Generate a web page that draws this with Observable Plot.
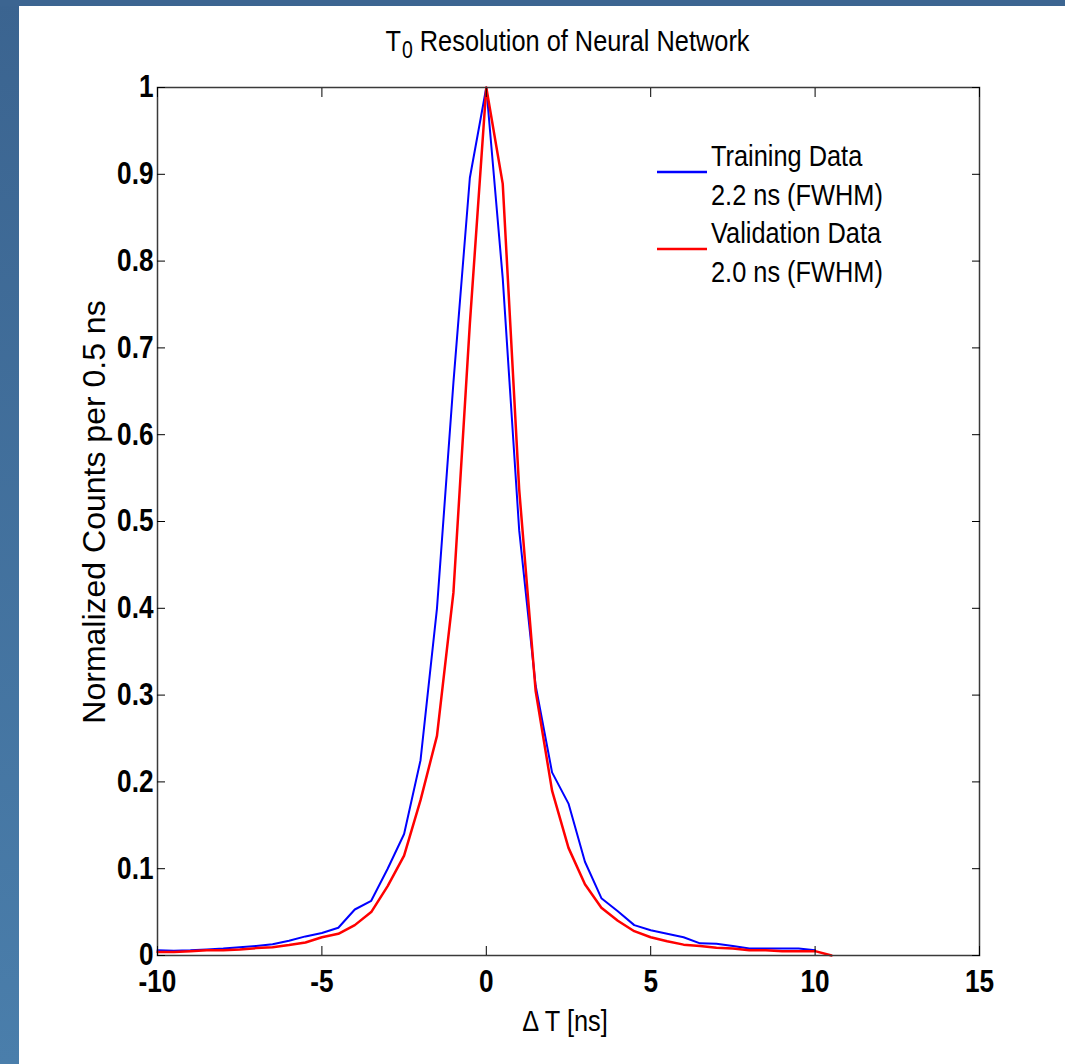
<!DOCTYPE html>
<html><head><meta charset="utf-8">
<script src="https://cdn.jsdelivr.net/npm/d3@7"></script>
<script src="https://cdn.jsdelivr.net/npm/@observablehq/plot@0.6"></script>
<style>
html,body{margin:0;padding:0;background:#fff;}
#wrap{position:relative;width:1065px;height:1064px;overflow:hidden;background:#fff;}
#leftband{position:absolute;left:0;top:0;width:19px;height:1064px;background:linear-gradient(#3b6490,#4a7eab);z-index:2}
#topband{position:absolute;left:0;top:0;width:1065px;height:6px;background:#3c6591;z-index:2}
#chart{position:absolute;left:0;top:0;}
</style></head><body>
<div id="wrap"><div id="chart"></div><div id="leftband"></div><div id="topband"></div></div>
<script>
// ΔT bin centres (ns), 0.5 ns bins
const binCenters = [-10,-9.5,-9,-8.5,-8,-7.5,-7,-6.5,-6,-5.5,-5,-4.5,-4,-3.5,-3,-2.5,-2,-1.5,-1,-0.5,0,0.5,1,1.5,2,2.5,3,3.5,4,4.5,5,5.5,6,6.5,7,7.5,8,8.5,9,9.5,10,10.5];
// Training data (blue), bins -10 .. 10
const trainingCounts = [0.006,0.0055,0.006,0.007,0.008,0.0095,0.011,0.013,0.017,0.022,0.026,0.032,0.053,0.063,0.1,0.14,0.225,0.40,0.66,0.896,1.0,0.78,0.49,0.311,0.211,0.175,0.108,0.066,0.051,0.035,0.029,0.025,0.021,0.014,0.0135,0.011,0.008,0.008,0.008,0.008,0.006];
// Validation data (red), bins -10 .. 10.5
const validationCounts = [0.004,0.004,0.005,0.006,0.006,0.007,0.0085,0.0095,0.012,0.015,0.021,0.025,0.035,0.05,0.08,0.115,0.179,0.253,0.418,0.728,1.0,0.889,0.537,0.305,0.19,0.124,0.082,0.055,0.04,0.028,0.021,0.0165,0.0125,0.011,0.009,0.008,0.006,0.006,0.005,0.005,0.005,0.0];
const xTicks = [-10,-5,0,5,10,15];
const yTicks = [0,0.1,0.2,0.3,0.4,0.5,0.6,0.7,0.8,0.9,1];
const titleMain = "T";
const titleSub = "0";
const titleRest = " Resolution of Neural Network";
const xLabel = "\u0394 T [ns]";
const yLabel = "Normalized Counts per 0.5 ns";
const legendEntries = [
  {lines:["Training Data","2.2 ns (FWHM)"], color:"#0000ff"},
  {lines:["Validation Data","2.0 ns (FWHM)"], color:"#ff0000"}
];

const training = trainingCounts.map((v,i)=>({dt:binCenters[i], n:v}));
const validation = validationCounts.map((v,i)=>({dt:binCenters[i], n:v}));

const W = 1065, H = 1064;
const M = {left:157, right:86, top:87, bottom:109};
const innerW = W - M.left - M.right, innerH = H - M.top - M.bottom;
const FONT = "'Liberation Sans', Arial, Helvetica, sans-serif";

const chart = Plot.plot({
  width:W, height:H,
  marginLeft:M.left, marginRight:M.right, marginTop:M.top, marginBottom:M.bottom,
  style:{fontFamily:FONT, background:"transparent", overflow:"visible", color:"#000"},
  x:{domain:[-10,15]},
  y:{domain:[0,1]},
  marks:[
    Plot.line(training,{x:"dt", y:"n", stroke:"#0000ff", strokeWidth:2}),
    Plot.line(validation,{x:"dt", y:"n", stroke:"#ff0000", strokeWidth:2.5}),
    Plot.frame({stroke:"#3a3a3a", strokeWidth:1.5}),
    Plot.axisX({anchor:"bottom", ticks:xTicks, tickSize:-9, tickPadding:23, tickFormat:d=>String(d), fontSize:31, label:null}),
    Plot.axisX({anchor:"top", ticks:xTicks, tickSize:-9, tickFormat:()=>"", label:null}),
    Plot.axisY({anchor:"left", ticks:yTicks, tickSize:-8, tickPadding:12, tickFormat:d=>String(+d.toFixed(1)), fontSize:31, label:null}),
    Plot.axisY({anchor:"right", ticks:yTicks, tickSize:-8, tickFormat:()=>"", label:null})
  ]
});
document.getElementById("chart").append(chart);

const svg = d3.select(chart);
svg.selectAll('g[aria-label$="tick label"]').attr("font-weight","bold").attr("font-size",31);

const cx = M.left + innerW/2;
// title (T with subscript 0)
const tg = svg.append("g").attr("font-family",FONT).attr("fill","#000").attr("text-anchor","start");
const t1 = tg.append("text").attr("y", M.top - 36).attr("font-size",30).text(titleMain);
const t2 = tg.append("text").attr("y", M.top - 29).attr("font-size",23).text(titleSub);
const t3 = tg.append("text").attr("y", M.top - 36).attr("font-size",30).text(titleRest);
// x label
svg.append("text").attr("x", cx - 3).attr("y", H - M.bottom + 76)
  .attr("text-anchor","middle").attr("font-size",30).attr("font-family",FONT).attr("fill","#000").text(xLabel);
// y label (rotated, not compressed)
svg.append("text").attr("class","nocomp")
  .attr("transform",`translate(${M.left - 52},${M.top + innerH/2 - 9}) rotate(-90)`)
  .attr("text-anchor","middle").attr("font-size",32).attr("font-family",FONT).attr("fill","#000").text(yLabel);
// legend
const lg = svg.append("g").attr("font-family",FONT).attr("font-size",30).attr("fill","#000").attr("text-anchor","start");
const right = W - M.right;
legendEntries.forEach((e,i)=>{
  const base = M.top + 79 + i*77;
  lg.append("line").attr("x1", right-322).attr("x2", right-272)
    .attr("y1", base + 6).attr("y2", base + 6).attr("stroke", e.color).attr("stroke-width",2.5);
  e.lines.forEach((s,j)=>{
    lg.append("text").attr("x", right-268).attr("y", base + j*38.5).text(s);
  });
});

// horizontal compression of the original rendering
const SX = 0.845;
svg.selectAll("text").each(function(){
  if (this.classList.contains("nocomp")) return;
  const L = this.getComputedTextLength();
  if (L > 0) d3.select(this).attr("textLength", L*SX).attr("lengthAdjust","spacingAndGlyphs");
});
// place title pieces side by side, centred over the frame
const w1 = +t1.attr("textLength"), w2 = +t2.attr("textLength"), w3 = +t3.attr("textLength");
const x0 = cx - 1 - (w1 + w2 + w3)/2;
t1.attr("x", x0);
t2.attr("x", x0 + w1 + 1);
t3.attr("x", x0 + w1 + w2 + 1);
</script>
</body></html>
